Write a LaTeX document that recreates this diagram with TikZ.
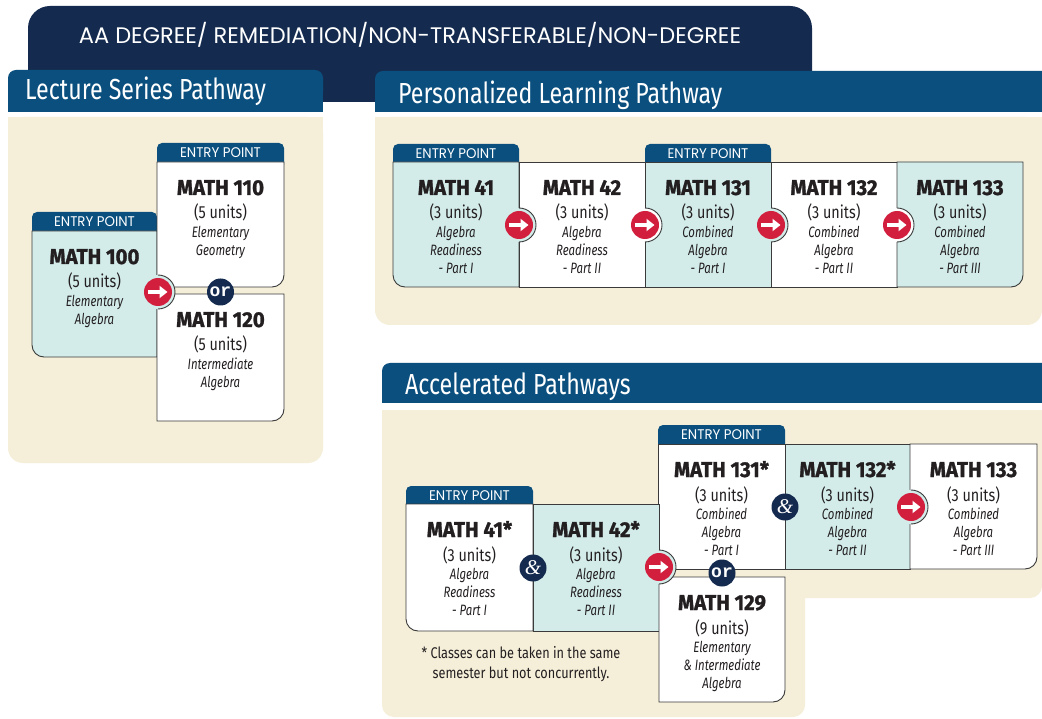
\documentclass[tikz,border=0pt]{standalone}
\usepackage{fontspec}
\setmainfont{Fira Sans}
\newfontfamily\hdfont{Fira Sans}[FakeStretch=0.8]
\newfontfamily\bxfont{Fira Sans}[FakeStretch=0.82]
\newfontfamily\tlfont{Fira Sans}[FakeStretch=0.95,BoldFeatures={FakeBold=1.2}]
\newfontfamily\itfont{Fira Sans}[FakeStretch=0.76]
\newfontfamily\bnfont{Poppins}
\newfontfamily\tabfont{Poppins}[FakeStretch=0.95]
\newfontfamily\orfont{Liberation Mono}
\newfontfamily\ampfont{Liberation Serif}
\usetikzlibrary{arrows.meta}
\definecolor{navy}{HTML}{142B4F}
\definecolor{hblue}{HTML}{0A4F7E}
\definecolor{beige}{HTML}{F5EFD9}
\definecolor{cyanbx}{HTML}{D3ECEA}
\definecolor{redc}{HTML}{D21F3E}
\definecolor{lineg}{HTML}{3A3A3A}
\definecolor{txt}{HTML}{231F20}
\tikzset{
  bx/.style={draw=lineg, line width=0.9pt},
  tabtxt/.style={text=white, font=\tabfont\fontsize{14}{14}\selectfont, inner sep=0pt},
  ttl/.style={text=txt, font=\tlfont\bfseries\fontsize{21.5}{21.5}\selectfont, inner sep=0pt, anchor=base},
  unt/.style={text=txt, font=\bxfont\fontsize{17.5}{17.5}\selectfont, inner sep=0pt, anchor=base},
  dsc/.style={text=txt, font=\itfont\itshape\fontsize{15}{18}\selectfont, inner sep=0pt, anchor=north, align=center},
  hdtxt/.style={text=white, font=\hdfont\fontsize{29}{29}\selectfont, inner sep=0pt, anchor=base west},
  redcirc/.style={circle, fill=redc, minimum size=28pt, inner sep=0pt},
  navcirc/.style={circle, fill=navy, minimum size=27pt, inner sep=0pt, text=white},
  arrw/.style={draw=white, line width=3.4pt, -{Triangle[width=12pt,length=8pt]}},
}
\newcommand\bxS[5]{\draw[bx,fill=#1] (#2,#3) rectangle (#4,#5);}
\newcommand\bxL[5]{\draw[bx,fill=#1] (#2,#3) -- (#4,#3) -- (#4,#5) -- ({#2+12},#5) arc[start angle=90,end angle=180,radius=12] -- cycle;}
\newcommand\bxR[5]{\draw[bx,fill=#1] (#2,#3) -- (#4,#3) -- (#4,{#5-12}) arc[start angle=0,end angle=90,radius=12] -- (#2,#5) -- cycle;}
\newcommand\tabx[5]{\fill[hblue,rounded corners=5] (#1,#2) rectangle (#3,{#4+8});
  \node[tabtxt] (#5) at ({(#1+#3)/2},{(#2+#4)/2+0.5}) {ENTRY POINT};}
\newcommand\course[6]{%
  \node[ttl] (#1t) at (#2,{#3+33}) {#4};
  \node[unt] (#1u) at (#2,{#3+57}) {#5};
  \node[dsc] (#1d) at (#2,{#3+64}) {#6};}
\newcommand\arr[4]{%
  \fill[#4] (#2,#3) circle[radius=17];
  \draw[bx] (#2,{#3-17}) arc[start angle=-90,end angle=90,radius=17];
  \node[redcirc] (#1) at (#2,#3) {};
  \draw[arrw] ([xshift=-10pt]#1.center) -- ([xshift=9.5pt]#1.center);}
\newcommand\orc[3]{\node[navcirc, font=\orfont\bfseries\fontsize{18}{18}\selectfont] (#1) at (#2,#3) {\raisebox{1pt}{or}};}
\newcommand\ampc[3]{\node[navcirc, font=\ampfont\itshape\fontsize{21}{21}\selectfont] (#1) at (#2,#3) {\&};}
\begin{document}
\begin{tikzpicture}[x=1pt,y=-1pt]
\useasboundingbox (0,0) rectangle (1042,719);
\fill[white] (0,0) rectangle (1042,719);
% banner
\fill[navy, rounded corners=22] (28,6) rectangle (812,102);
\node[text=white, font=\bnfont\fontsize{22.5}{22.5}\selectfont, inner sep=0pt, anchor=base] (banner) at (410,44) {AA DEGREE/ REMEDIATION/NON-TRANSFERABLE/NON-DEGREE};
% headers
\fill[hblue, rounded corners=8] (8,70) rectangle (323,100); \fill[hblue] (8,90) rectangle (323,112);
\node[hdtxt] (h1) at (25,100) {Lecture Series Pathway};
\fill[hblue, rounded corners=8] (375,71) rectangle (1050,100); \fill[hblue] (375,90) rectangle (1050,112);
\node[hdtxt] (h2) at (398,104) {Personalized Learning Pathway};
\fill[hblue, rounded corners=8] (382,363) rectangle (1050,392); \fill[hblue] (382,380) rectangle (1050,403);
\node[hdtxt] (h3) at (405,395) {Accelerated Pathways};
% panels
\fill[beige, rounded corners=15] (8,117) rectangle (323,463); \fill[beige] (8,117) rectangle (323,140);
\fill[beige, rounded corners=15] (375,117) rectangle (1042,325); \fill[beige] (375,117) rectangle (1042,140);
\fill[beige, rounded corners=12] (382,410) rectangle (1042,598);
\fill[beige, rounded corners=12] (382,410) rectangle (805,717); \fill[beige] (382,410) rectangle (1042,430);
% ---------- Lecture series
\tabx{32}{212}{157}{231}{e100}
\bxL{cyanbx}{32}{231}{157}{357}
\tabx{157}{143}{284}{162}{e110}
\bxR{white}{157}{162}{284}{287}
\bxR{white}{157}{294}{284}{421}
\course{m100}{94.5}{231}{MATH 100}{(5 units)}{Elementary\\Algebra}
\course{m110}{220.5}{162}{MATH 110}{(5 units)}{Elementary\\Geometry}
\course{m120}{220.5}{294}{MATH 120}{(5 units)}{Intermediate\\Algebra}
\arr{a1}{158}{292}{cyanbx}
\orc{o1}{220.5}{292}
% ---------- Personalized
\tabx{393}{144}{519}{162}{e41}
\tabx{645}{144}{771}{162}{e131}
\bxL{cyanbx}{393}{162}{519}{287}
\bxS{white}{519}{162}{645}{287}
\bxS{cyanbx}{645}{162}{771}{287}
\bxS{white}{771}{162}{897}{287}
\bxR{cyanbx}{897}{162}{1023}{287}
\course{p41}{456}{162}{MATH 41}{(3 units)}{Algebra\\Readiness\\- Part I}
\course{p42}{582}{162}{MATH 42}{(3 units)}{Algebra\\Readiness\\- Part II}
\course{p131}{708}{162}{MATH 131}{(3 units)}{Combined\\Algebra\\- Part I}
\course{p132}{834}{162}{MATH 132}{(3 units)}{Combined\\Algebra\\- Part II}
\course{p133}{960}{162}{MATH 133}{(3 units)}{Combined\\Algebra\\- Part III}
\arr{a2}{519}{225}{cyanbx}
\arr{a3}{645}{225}{white}
\arr{a4}{771}{225}{cyanbx}
\arr{a5}{897}{225}{white}
% ---------- Accelerated
\tabx{658}{425}{785}{444}{e131a}
\bxS{white}{658}{444}{785}{569}
\bxS{cyanbx}{785}{444}{910}{569}
\bxR{white}{910}{444}{1037}{569}
\tabx{406}{486}{533}{504}{e41a}
\bxL{white}{406}{504}{533}{631}
\bxS{cyanbx}{533}{504}{659}{631}
\bxR{white}{659}{577}{785}{702}
\course{q131}{721.5}{444}{MATH 131*}{(3 units)}{Combined\\Algebra\\- Part I}
\course{q132}{847.5}{444}{MATH 132*}{(3 units)}{Combined\\Algebra\\- Part II}
\course{q133}{973.5}{444}{MATH 133}{(3 units)}{Combined\\Algebra\\- Part III}
\course{q41}{469.5}{504}{MATH 41*}{(3 units)}{Algebra\\Readiness\\- Part I}
\course{q42}{596}{504}{MATH 42*}{(3 units)}{Algebra\\Readiness\\- Part II}
\course{q129}{722}{577}{MATH 129}{(9 units)}{Elementary\\\& Intermediate\\Algebra}
\ampc{c1}{785}{507}
\arr{a6}{911}{507}{cyanbx}
\ampc{c2}{533}{568}
\arr{a7}{659}{567}{cyanbx}
\orc{o2}{722}{573}
\node[text=txt, font=\bxfont\fontsize{15.5}{20}\selectfont, align=center, inner sep=0pt] (note) at (521,664) {* Classes can be taken in the same\\semester but not concurrently.};
\end{tikzpicture}
\end{document}
